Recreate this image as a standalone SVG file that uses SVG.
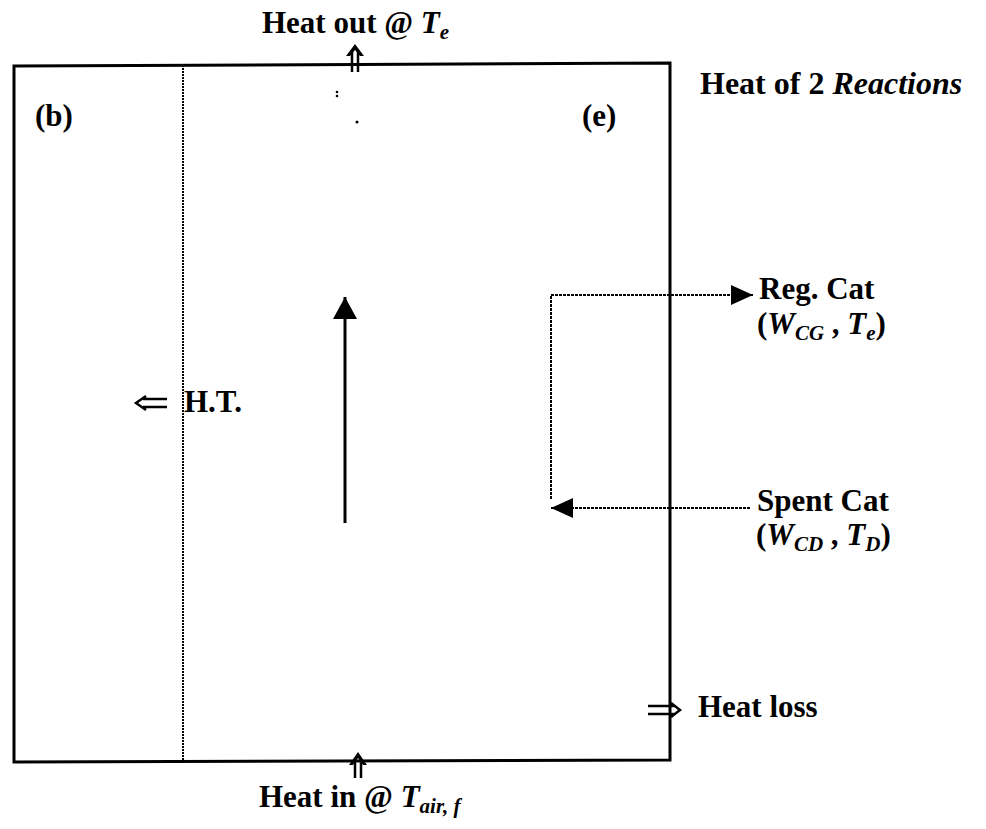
<svg xmlns="http://www.w3.org/2000/svg" width="986" height="829" viewBox="0 0 986 829">
<style>
text{font-family:"Liberation Serif","Times New Roman",serif;font-weight:bold;font-size:31px;fill:#000}
.i{font-style:italic}
.s{font-size:21px}
.box{fill:none;stroke:#000;stroke-width:3}
.dot{fill:none;stroke:#000;stroke-width:2;stroke-dasharray:2 1}
.flow{fill:none;stroke:#000;stroke-width:2;stroke-dasharray:3 1}
.dbl{fill:none;stroke:#000;stroke-width:2.5}
</style>
<defs>
<marker id="ah" viewBox="0 0 22 20" refX="22" refY="10" markerWidth="22" markerHeight="20" markerUnits="userSpaceOnUse" orient="auto"><path d="M0,0L22,10L0,20Z" fill="#000"/></marker>
<marker id="ahc" viewBox="0 0 22 24" refX="22" refY="12" markerWidth="22" markerHeight="24" markerUnits="userSpaceOnUse" orient="auto"><path d="M0,0L22,12L0,24Z" fill="#000"/></marker>
</defs>
<rect width="986" height="829" fill="#fff"/>
<g id="vessel">
<path class="box" d="M14,66 L670,63 L670,760 L14,762 Z"/>
<line class="dot" x1="183" y1="65" x2="183" y2="761"/>
<circle cx="337" cy="92" r="1.3"/><circle cx="337" cy="96" r="1.3"/><circle cx="357" cy="122" r="1.5"/>
</g>
<g id="connectors">
<line x1="345" y1="523" x2="345" y2="297" stroke="#000" stroke-width="3" marker-end="url(#ahc)"/>
<polyline class="flow" points="551,499 551,295 753,295" marker-end="url(#ah)"/>
<line class="flow" x1="750" y1="508" x2="551" y2="508" marker-end="url(#ah)"/>
</g>
<g id="heat-out">
<text x="262" y="33">Heat out @ <tspan class="i">T</tspan><tspan class="i s" dy="6">e</tspan></text>
<path class="dbl" d="M352,72V50M358,72V50"/><path d="M346,56L355,44L364,56L360,56L355,50L350,56Z" fill="#000"/>
</g>
<g id="heat-in">
<text x="259" y="807">Heat in @ <tspan class="i">T</tspan><tspan class="i s" dy="6">air, f</tspan></text>
<path class="dbl" d="M355,778V760M361,778V760"/><path d="M349,765L358,752L367,765L363,765L358,758L353,765Z" fill="#000"/>
</g>
<g id="reactions"><text x="700" y="94" style="font-size:32px">Heat of 2 <tspan class="i">Reactions</tspan></text></g>
<g id="label-b"><text x="35" y="126">(b)</text></g>
<g id="label-e"><text x="582" y="126">(e)</text></g>
<g id="ht">
<path class="dbl" d="M167,399H143M167,407H143M146,396L136,403L146,410"/>
<text x="184" y="412">H.T.</text>
</g>
<g id="heat-loss">
<path class="dbl" d="M648,706H674M648,714H674M671,703L680,710L671,717"/>
<text x="698" y="717">Heat loss</text>
</g>
<g id="reg-cat">
<text x="759" y="299">Reg. Cat</text>
<text x="757" y="334">(<tspan class="i">W</tspan><tspan class="i s" dy="6">CG</tspan><tspan dy="-6"> , </tspan><tspan class="i">T</tspan><tspan class="i s" dy="6">e</tspan><tspan dy="-6">)</tspan></text>
</g>
<g id="spent-cat">
<text x="757" y="511">Spent Cat</text>
<text x="756" y="545">(<tspan class="i">W</tspan><tspan class="i s" dy="6">CD</tspan><tspan dy="-6"> , </tspan><tspan class="i">T</tspan><tspan class="i s" dy="6">D</tspan><tspan dy="-6">)</tspan></text>
</g>
</svg>
